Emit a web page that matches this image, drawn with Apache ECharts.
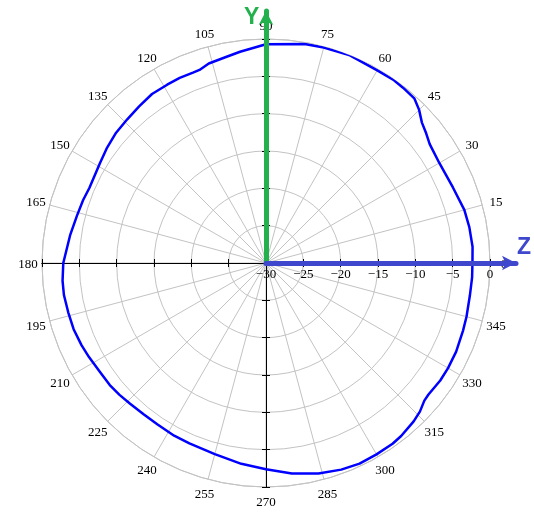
<!DOCTYPE html>
<html>
<head>
<meta charset="utf-8">
<script src="https://cdn.jsdelivr.net/npm/echarts@6/dist/echarts.min.js"></script>
<style>html,body{margin:0;padding:0;background:#fff;}#c{width:534px;height:528px;}</style>
</head>
<body>
<div id="c"></div>
<script>
// Pattern data: angle (degrees) and relative gain (dB)
const angles = [0,4.5,10,15,22,30,36,39,42,45,48,52,55,60,68,75,80,90,97,101,106,109,111,115,119,124,129,134,139,144,149,157,161,166,172,180,185,189,194,199,204,208,213,218,222,226,231,236,242,247,255,263,270,277,284,290,295,300,305,308,313,316,319,321,326,330,335,341,345,351,356,360];
const gains = [-2.35,-2.25,-2.35,-2.5,-3.0,-3.2,-2.9,-2.4,-1.9,-1.0,-0.32,-0.2,-0.12,-0.2,0.0,-0.13,-0.23,-0.7,-1.5,-1.9,-2.2,-2.65,-2.7,-2.65,-2.7,-2.7,-3.0,-3.25,-3.4,-3.7,-4.05,-4.3,-4.1,-3.9,-3.5,-2.85,-2.65,-2.6,-2.7,-2.75,-2.95,-3.15,-3.4,-3.45,-3.6,-3.8,-3.95,-3.95,-3.8,-3.75,-3.5,-2.9,-2.37,-1.6,-0.95,-0.55,-0.36,-0.4,-0.45,-0.6,-1.0,-1.35,-1.9,-2.0,-1.85,-1.85,-1.9,-2.1,-2.2,-2.35,-2.33,-2.35];
// Axis settings
const radiusMin = -30, radiusMax = 0, radiusStep = 5;
const angleStep = 15;
const axisNameY = 'Y', axisNameZ = 'Z';

const C = [266, 263], R = 224;
const serif = 'Liberation Serif';
const gridGrey = '#c3c3c3';

// Angle labels: centred on a circle slightly outside the plot (rich padding
// compensates ECharts' edge anchoring of angle-axis labels)
const LBL_MARGIN = -10, LBL_DIST = 14, LBL_W = 20, LBL_H = 14, LBL_DY = 1.5;
const rich = {};
for (let a = 0; a < 360; a += angleStep) {
  const t = a * Math.PI / 180, c = Math.cos(t), s = Math.sin(t);
  const px = (R + LBL_MARGIN) * c, py = -(R + LBL_MARGIN) * s;
  const hAl = Math.abs(px) / R < 0.3 ? 'center' : (px > 0 ? 'left' : 'right');
  const vAl = Math.abs(py) / R < 0.3 ? 'middle' : (py > 0 ? 'top' : 'bottom');
  const dx = (LBL_DIST - LBL_MARGIN) * c, dy = -(LBL_DIST - LBL_MARGIN) * s + LBL_DY;
  let pl = 0, pr = 0, pt = 0, pb = 0;
  if (hAl === 'left') pl = dx - LBL_W / 2;
  else if (hAl === 'right') pr = -dx - LBL_W / 2;
  else if (dx > 0) pl = 2 * dx; else pr = -2 * dx;
  if (vAl === 'top') pt = dy - LBL_H / 2;
  else if (vAl === 'bottom') pb = -dy - LBL_H / 2;
  else if (dy > 0) pt = 2 * dy; else pb = -2 * dy;
  rich['a' + a] = {
    width: LBL_W, height: LBL_H, align: 'center',
    padding: [Math.max(pt, 0), Math.max(pr, 0), Math.max(pb, 0), Math.max(pl, 0)],
    fontFamily: serif, fontSize: 13, color: '#000'
  };
}

const polar = [], angleAxis = [], radiusAxis = [];

// main polar
polar.push({center: C, radius: R});
angleAxis.push({
  polarIndex: 0, type: 'value', min: 0, max: 360, interval: angleStep,
  startAngle: 0, clockwise: false,
  axisLine: {show: true, lineStyle: {color: gridGrey, width: 1}},
  axisTick: {show: false},
  splitLine: {show: true, lineStyle: {color: gridGrey, width: 1}},
  axisLabel: {show: true, margin: LBL_MARGIN, color: '#000', fontFamily: serif, fontSize: 13, rich,
    formatter: v => (v === 360 ? '' : '{a' + v + '|' + v + '}')}
});
radiusAxis.push({
  polarIndex: 0, type: 'value', min: radiusMin, max: radiusMax, interval: radiusStep, z: 1,
  axisLine: {show: true, lineStyle: {color: '#000', width: 1}},
  axisTick: {show: true, length: 4, lineStyle: {color: '#000'}},
  splitLine: {show: true, lineStyle: {color: gridGrey, width: 1}},
  axisLabel: {show: true, margin: -5, color: '#000', fontFamily: serif, fontSize: 13,
    align: 'center', verticalAlign: 'top',
    formatter: v => String(v).replace('-', '\u2212')}
});

// black cross-hair axes with two-sided ticks
function addTickAxis(start, len) {
  const i = polar.length;
  polar.push({center: C, radius: R});
  angleAxis.push({polarIndex: i, type: 'value', min: 0, max: 360, startAngle: start, clockwise: false, show: false});
  radiusAxis.push({
    polarIndex: i, type: 'value', min: radiusMin, max: radiusMax, interval: radiusStep, z: 1,
    axisLine: {show: true, lineStyle: {color: '#000', width: 1}},
    axisTick: {show: true, length: len, lineStyle: {color: '#000'}},
    axisLabel: {show: false}, splitLine: {show: false}
  });
}
addTickAxis(0, -4);
addTickAxis(90, 4); addTickAxis(90, -4);
addTickAxis(180, 4); addTickAxis(180, -4);
addTickAxis(270, 4); addTickAxis(270, -4);

// arrow axes
function addArrow(start, rad, color) {
  const i = polar.length;
  polar.push({center: C, radius: rad});
  angleAxis.push({polarIndex: i, type: 'value', min: 0, max: 360, startAngle: start, clockwise: false, show: false});
  radiusAxis.push({
    polarIndex: i, type: 'value', min: 0, max: 1, z: 10,
    axisLine: {show: true, symbol: ['none', 'arrow'], symbolSize: [11, 14], lineStyle: {color: color, width: 5}},
    axisTick: {show: false}, axisLabel: {show: false}, splitLine: {show: false}
  });
}
addArrow(90, 252, '#22b14c');
addArrow(0, 250, '#3f48cc');

const chart = echarts.init(document.getElementById('c'), null, {renderer: 'canvas'});
chart.setOption({
  backgroundColor: '#fff',
  animation: false,
  polar, angleAxis, radiusAxis,
  graphic: [
    {type: 'text', left: 244, top: 6, z: 20, style: {text: axisNameY, fill: '#22b14c', font: 'bold 23px "Liberation Sans"'}},
    {type: 'text', left: 517, top: 236, z: 20, style: {text: axisNameZ, fill: '#3f48cc', font: 'bold 23px "Liberation Sans"'}}
  ],
  series: [{
    type: 'line', coordinateSystem: 'polar', polarIndex: 0,
    data: angles.map((a, k) => [gains[k], a]),
    showSymbol: false, symbol: 'none', smooth: false, z: 5,
    lineStyle: {color: '#0000ff', width: 2.5}
  }]
});
</script>
</body>
</html>
